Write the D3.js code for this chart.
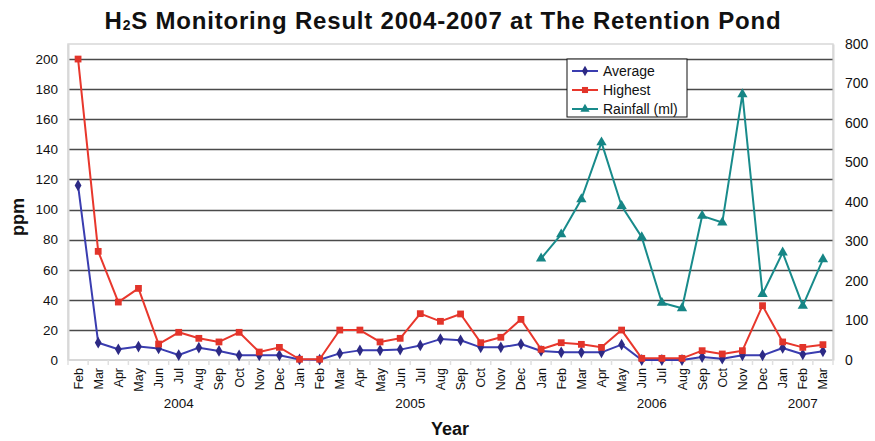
<!DOCTYPE html>
<html>
<head>
<meta charset="utf-8">
<script src="https://cdn.jsdelivr.net/npm/d3@7"></script>
<style>
  html, body { margin: 0; padding: 0; background: #fff; }
  svg { display: block; font-family: "Liberation Sans", Arial, Helvetica, sans-serif; }
</style>
</head>
<body>
<svg id="chart" width="875" height="441"></svg>
<script>
// Monthly H2S readings at the retention pond, Feb 2004 - Mar 2007
const months = ["Feb","Mar","Apr","May","Jun","Jul","Aug","Sep","Oct","Nov","Dec",
  "Jan","Feb","Mar","Apr","May","Jun","Jul","Aug","Sep","Oct","Nov","Dec",
  "Jan","Feb","Mar","Apr","May","Jun","Jul","Aug","Sep","Oct","Nov","Dec",
  "Jan","Feb","Mar"];
const years = ["2004", "2005", "2006", "2007"];
const monthsPerYear = [11, 12, 12, 3];

// ppm
const average = [116, 11.5, 7.1, 8.9, 7.7, 3.3, 8.2, 6.0, 3.1, 3.1, 3.1,
  0.4, 0.2, 4.4, 6.4, 6.4, 6.9, 9.7, 13.9, 13.1, 8.4, 8.4, 10.6,
  6.0, 5.1, 5.1, 5.1, 10.2, 0, 0, 0, 2.0, 0.9, 3.1, 3.1,
  8.0, 3.8, 5.8];
const highest = [200, 72.2, 38.5, 47.6, 10.6, 18.4, 14.4, 12.0, 18.4, 5.3, 8.4,
  0.5, 0.5, 19.9, 19.9, 12.0, 14.4, 30.8, 25.7, 30.6, 11.5, 15.1, 27.0,
  7.1, 11.5, 10.4, 8.4, 19.9, 1.1, 1.1, 1.1, 6.2, 4.0, 6.2, 36.1,
  12.0, 8.4, 10.2];
// ml, recorded from Jan 2006 onwards
const rainfall = [null, null, null, null, null, null, null, null, null, null, null,
  null, null, null, null, null, null, null, null, null, null, null, null,
  257, 318, 407, 551, 390, 311, 145, 131, 365, 348, 673, 167,
  272, 137, 255];

const leftTicks = [0, 20, 40, 60, 80, 100, 120, 140, 160, 180, 200];
const rightTicks = [0, 100, 200, 300, 400, 500, 600, 700, 800];

const svg = d3.select("#chart");
const plot = { left: 68, right: 833, top: 44, bottom: 360 };

const x = d3.scaleBand().domain(d3.range(months.length)).range([plot.left, plot.right]);
const cx = i => x(i) + x.bandwidth() / 2;
const yL = d3.scaleLinear().domain([0, 210]).range([plot.bottom, plot.top]);
const yR = d3.scaleLinear().domain([0, 800]).range([plot.bottom, plot.top]);

// Title
const title = svg.append("text")
  .attr("x", 443).attr("y", 29)
  .attr("text-anchor", "middle")
  .attr("font-size", 24).attr("font-weight", "bold").attr("fill", "#111")
  .attr("letter-spacing", 0.8);
title.append("tspan").text("H");
title.append("tspan").attr("font-size", 14).attr("dy", 1).text("2");
title.append("tspan").attr("dy", -1).text("S Monitoring Result 2004-2007 at The Retention Pond");

// Plot frame
svg.append("rect")
  .attr("x", plot.left).attr("y", plot.top)
  .attr("width", plot.right - plot.left).attr("height", plot.bottom - plot.top)
  .attr("fill", "#fff").attr("stroke", "#d8d8d8").attr("stroke-width", 1.5);

// Horizontal gridlines on the ppm scale
svg.append("g")
  .selectAll("line")
  .data(leftTicks.filter(d => d > 0))
  .join("line")
  .attr("x1", plot.left).attr("x2", plot.right)
  .attr("y1", d => Math.round(yL(d)) + 0.5).attr("y2", d => Math.round(yL(d)) + 0.5)
  .attr("stroke", "#4a4a4a").attr("stroke-width", 1.3);

// Left axis
const leftAxis = svg.append("g")
  .attr("transform", `translate(${plot.left},0)`)
  .call(d3.axisLeft(yL).tickValues(leftTicks).tickSize(0).tickPadding(10));
leftAxis.select(".domain").attr("stroke", "#d8d8d8").attr("stroke-width", 2);
leftAxis.selectAll("text").attr("font-size", 13.5).attr("fill", "#111")
  .attr("font-family", "Liberation Sans, Arial, sans-serif");

// Right axis
const rightAxis = svg.append("g")
  .attr("transform", `translate(${plot.right},0)`)
  .call(d3.axisRight(yR).tickValues(rightTicks).tickSize(0).tickPadding(12));
rightAxis.select(".domain").attr("stroke", "#d8d8d8").attr("stroke-width", 2);
rightAxis.selectAll("text").attr("font-size", 14).attr("fill", "#111")
  .attr("font-family", "Liberation Sans, Arial, sans-serif");

// Bottom axis: category separators and rotated month names
const bottom = svg.append("g");
bottom.append("line")
  .attr("x1", plot.left).attr("x2", plot.right)
  .attr("y1", plot.bottom).attr("y2", plot.bottom)
  .attr("stroke", "#d8d8d8").attr("stroke-width", 2);
bottom.selectAll("line.sep")
  .data(d3.range(months.length + 1))
  .join("line").attr("class", "sep")
  .attr("x1", i => i < months.length ? x(i) : plot.right)
  .attr("x2", i => i < months.length ? x(i) : plot.right)
  .attr("y1", plot.bottom).attr("y2", plot.bottom + 5)
  .attr("stroke", "#e0e0e0").attr("stroke-width", 1.5);
bottom.selectAll("text.month")
  .data(months)
  .join("text").attr("class", "month")
  .attr("transform", (d, i) => `translate(${cx(i) + 4.5},${plot.bottom + 8}) rotate(-90)`)
  .attr("text-anchor", "end")
  .attr("font-size", 12.5).attr("fill", "#111")
  .text(d => d);

// Year labels centred under their months
let start = 0;
const yearPos = monthsPerYear.map(n => {
  const mid = (x(start) + x(start + n - 1) + x.bandwidth()) / 2;
  start += n;
  return mid;
});
bottom.selectAll("text.year")
  .data(years)
  .join("text").attr("class", "year")
  .attr("x", (d, i) => yearPos[i]).attr("y", 408)
  .attr("text-anchor", "middle")
  .attr("font-size", 13.5).attr("fill", "#111")
  .text(d => d);

// Axis titles
svg.append("text")
  .attr("x", 450).attr("y", 435)
  .attr("text-anchor", "middle")
  .attr("font-size", 18).attr("font-weight", "bold").attr("fill", "#111")
  .text("Year");
svg.append("text")
  .attr("transform", "translate(24,217) rotate(-90)")
  .attr("text-anchor", "middle")
  .attr("font-size", 18).attr("font-weight", "bold").attr("fill", "#111")
  .text("ppm");

// Series
const series = [
  { name: "Average", values: average, scale: yL, line: "#3a3db0", fill: "#2d2a85", symbol: d3.symbolDiamond, size: 40 },
  { name: "Highest", values: highest, scale: yL, line: "#e8372c", fill: "#e2342a", symbol: d3.symbolSquare, size: 46 },
  { name: "Rainfall (ml)", values: rainfall, scale: yR, line: "#188b8b", fill: "#168585", symbol: d3.symbolTriangle, size: 46 }
];

series.forEach(s => {
  const pts = s.values.map((v, i) => ({ i, v })).filter(p => p.v !== null);
  const line = d3.line().x(p => cx(p.i)).y(p => s.scale(p.v));
  svg.append("path")
    .datum(pts)
    .attr("d", line)
    .attr("fill", "none")
    .attr("stroke", s.line).attr("stroke-width", 2)
    .attr("stroke-linejoin", "round");
  svg.append("g")
    .selectAll("path")
    .data(pts)
    .join("path")
    .attr("transform", p => `translate(${cx(p.i)},${s.scale(p.v)})`)
    .attr("d", d3.symbol(s.symbol, s.size))
    .attr("fill", s.fill);
});

// Legend
const legend = svg.append("g").attr("transform", "translate(567,59)");
legend.append("rect")
  .attr("width", 120).attr("height", 58)
  .attr("fill", "#fff").attr("stroke", "#111").attr("stroke-width", 1);
series.forEach((s, k) => {
  const gy = 12 + k * 19;
  legend.append("line")
    .attr("x1", 5).attr("x2", 31).attr("y1", gy).attr("y2", gy)
    .attr("stroke", s.line).attr("stroke-width", 2);
  legend.append("path")
    .attr("transform", `translate(18,${gy})`)
    .attr("d", d3.symbol(s.symbol, s.size * 0.8))
    .attr("fill", s.fill);
  legend.append("text")
    .attr("x", 36).attr("y", gy + 5)
    .attr("font-size", 14).attr("fill", "#111")
    .text(s.name);
});
</script>
</body>
</html>
